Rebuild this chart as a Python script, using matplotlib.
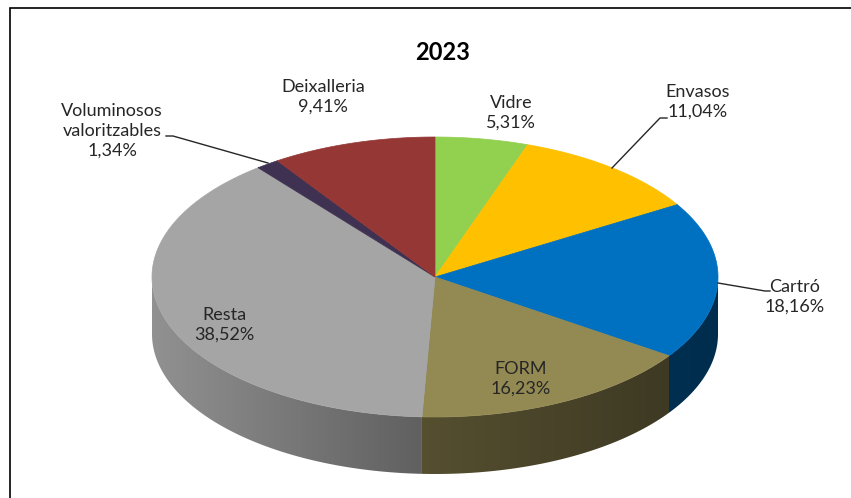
import numpy as np
import matplotlib.pyplot as plt
from matplotlib.colors import to_rgb
from matplotlib.patches import Polygon

plt.rcParams['font.family'] = ['Lato', 'DejaVu Sans']

# data, clockwise from 12 o'clock
labels = ['Vidre', 'Envasos', 'Cartró', 'FORM', 'Resta',
          'Voluminosos\nvaloritzables', 'Deixalleria']
values = [5.31, 11.04, 18.16, 16.23, 38.52, 1.34, 9.41]
colors = ['#92D050', '#FFC000', '#0070C0', '#938953', '#A5A5A5',
          '#3F3151', '#953735']
title = '2023'

# pixel layout of the 3d pie (y axis points down)
cx, cy, rx, ry, depth = 435, 277, 283, 140, 57

# label block centres and leader lines
label_pos = [(511, 113), (698, 102), (795, 297), (521, 379), (224, 325),
             (112, 131), (323, 97)]
leaders = {1: [(612, 168), (660, 118), (667, 118)],
           2: [(718, 283), (765, 291), (770, 291)],
           5: [(166, 136), (173, 136), (268, 163)]}

fig = plt.figure(figsize=(8.51, 4.98), dpi=100)
ax = fig.add_axes([0, 0, 1, 1])
ax.set_xlim(0, 851)
ax.set_ylim(498, 0)
ax.axis('off')


def pt(theta, dy=0.0):
    return cx + rx * np.sin(theta), cy - ry * np.cos(theta) + dy


frac = np.array(values) / sum(values)
edges = np.concatenate([[0], np.cumsum(frac)]) * 2 * np.pi

# side shading varies left -> right
gx = np.linspace(cx - rx, cx + rx, 600)
gf = np.interp((gx - (cx - rx)) / (2 * rx), [0, 0.48, 0.91, 1.0],
               [0.88, 0.58, 0.42, 0.40])

# side walls (front half only)
for i, col in enumerate(colors):
    a0 = max(edges[i], np.pi / 2)
    a1 = min(edges[i + 1], 3 * np.pi / 2)
    if a1 <= a0:
        continue
    base = np.array(to_rgb(col))
    th = np.linspace(a0, a1, 200)
    xs, ys = pt(th)
    poly = list(zip(xs, ys)) + list(zip(xs[::-1], ys[::-1] + depth))
    patch = Polygon(poly, closed=True, facecolor='none', edgecolor='none')
    ax.add_patch(patch)
    grad = (gf[:, None] * base[None, :])[None, :, :]
    im = ax.imshow(grad, extent=(cx - rx, cx + rx, cy + ry + depth, cy),
                   aspect='auto', interpolation='bilinear', zorder=1)
    im.set_clip_path(patch)

# top faces
for i, col in enumerate(colors):
    th = np.linspace(edges[i], edges[i + 1], 200)
    xs, ys = pt(th)
    poly = [(cx, cy)] + list(zip(xs, ys))
    ax.add_patch(Polygon(poly, closed=True, facecolor=col,
                         edgecolor=col, lw=0.5, zorder=2))

ax.set_xlim(0, 851)
ax.set_ylim(498, 0)

# labels
for i, (lab, v) in enumerate(zip(labels, values)):
    txt = lab + '\n' + f'{v:.2f}'.replace('.', ',') + '%'
    x, y = label_pos[i]
    ax.text(x, y, txt, ha='center', va='center', fontsize=13,
            color='#262626', linespacing=1.3, zorder=5)
    if i in leaders:
        lx, ly = zip(*leaders[i])
        ax.plot(lx, ly, color='#262626', lw=1, zorder=4)

ax.text(443, 52, title, ha='center', va='center', fontsize=17,
        fontweight='bold', color='black')

# chart frame
ax.plot([10, 10, 851], [498, 8, 8], color='black', lw=1.2,
        solid_joinstyle='miter')

fig.savefig('out.png', dpi=100)
